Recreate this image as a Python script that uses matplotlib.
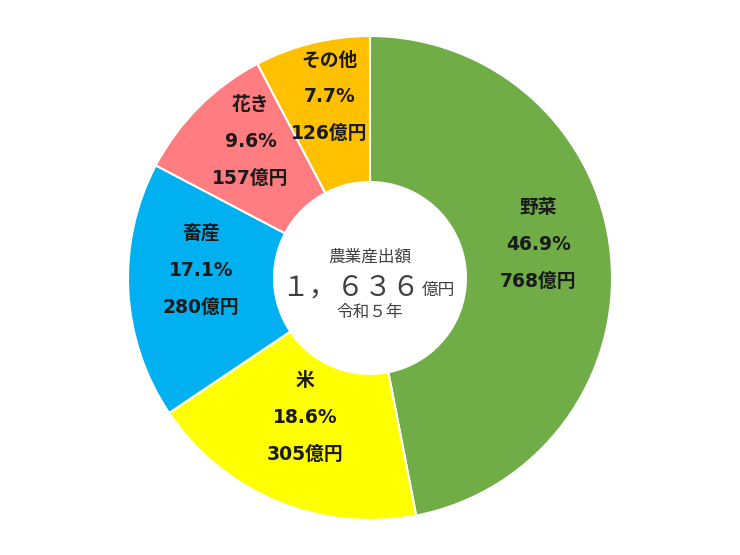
import numpy as np
import matplotlib.pyplot as plt

# 農業産出額 令和5年 (億円)
categories = ["野菜", "米", "畜産", "花き", "その他"]
amounts = [768, 305, 280, 157, 126]
pct_labels = ["46.9%", "18.6%", "17.1%", "9.6%", "7.7%"]
colors = ["#70AD47", "#FFFF00", "#00B0F0", "#FF7C80", "#FFC000"]
total_label = "１，６３６"

plt.rcParams["font.family"] = ["DejaVu Sans", "Noto Sans CJK JP"]

W, H = 740, 555
cx, cy = 370, 277
r_out = 242
r_in = 96

fig = plt.figure(figsize=(W / 100, H / 100), dpi=100)
ax = fig.add_axes([0, 0, 1, 1])
wedges, _ = ax.pie(
    amounts, colors=colors, startangle=90, counterclock=False,
    center=(cx, cy), radius=r_out,
    wedgeprops=dict(width=r_out - r_in, edgecolor="white", linewidth=1.5),
)
ax.set_xlim(0, W)
ax.set_ylim(0, H)
ax.set_aspect("equal")
ax.axis("off")

# data labels in the middle of the ring
r_lab = (r_out + r_in) / 2
for w, name, pct, amt in zip(wedges, categories, pct_labels, amounts):
    ang = np.deg2rad((w.theta1 + w.theta2) / 2)
    x = cx + r_lab * np.cos(ang)
    y = cy + r_lab * np.sin(ang) + 17
    lines = [name, pct, f"{amt}億円"]
    for k, s in enumerate(lines):
        ax.text(x, y + 37 * (1 - k), s, ha="center", va="center",
                fontsize=13.5, fontweight="bold", color="#1a1a1a")

# center text
gray = "#404040"
ax.text(cx, cy + 21, "農業産出額", ha="center", va="center", fontsize=12,
        color=gray, family=["Noto Sans CJK JP"])
ax.text(cx + 50, cy - 17, total_label, ha="right", va="baseline", fontsize=20,
        color=gray, family=["Noto Sans CJK JP"])
ax.text(cx + 52, cy - 17, "億円", ha="left", va="baseline", fontsize=12,
        color=gray, family=["Noto Sans CJK JP"])
ax.text(cx, cy - 35, "令和５年", ha="center", va="center", fontsize=12,
        color=gray, family=["Noto Sans CJK JP"])

fig.savefig("out.png", dpi=100)
